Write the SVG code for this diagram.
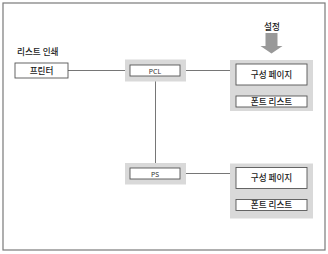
<svg xmlns="http://www.w3.org/2000/svg" width="328" height="254" viewBox="0 0 328 254">
<style>
.frame{fill:#fff;stroke:#7a7a7a;stroke-width:1.2}
.grp{fill:#d9d9d9;stroke:none}
.box{fill:#fff;stroke:#555;stroke-width:0.9}
.ln{stroke:#666;stroke-width:0.9;fill:none}
.kt{font-family:"Noto Sans CJK KR","Noto Sans",sans-serif;font-size:8.6px;font-weight:500;fill:#1a1a1a;text-anchor:middle}
.lt{font-family:"Noto Sans","Liberation Sans",sans-serif;font-size:7px;fill:#333;text-anchor:middle}
</style>
<rect class="frame" x="3" y="3" width="322" height="247"/>
<g id="connectors">
<line class="ln" x1="68" y1="70.5" x2="130" y2="70.5"/>
<line class="ln" x1="180" y1="70.5" x2="231" y2="70.5"/>
<line class="ln" x1="155.5" y1="76" x2="155.5" y2="168"/>
<line class="ln" x1="180" y1="173.5" x2="231" y2="173.5"/>
<line class="ln" x1="271.5" y1="85" x2="271.5" y2="96"/>
<line class="ln" x1="271.5" y1="188" x2="271.5" y2="199"/>
</g>
<g id="label-list">
<text class="kt" x="17" y="55" style="text-anchor:start">리스트 인쇄</text>
</g>
<g id="printer">
<rect class="box" x="15" y="63" width="53" height="15"/>
<text class="kt" x="41.5" y="74">프린터</text>
</g>
<g id="pcl">
<rect class="grp" x="125" y="59.5" width="61" height="22"/>
<rect class="box" x="130" y="65" width="50" height="11"/>
<text class="lt" x="155" y="73.5">PCL</text>
</g>
<g id="ps">
<rect class="grp" x="125" y="163" width="61" height="21.5"/>
<rect class="box" x="130" y="168" width="50" height="11"/>
<text class="lt" x="155" y="176.5">PS</text>
</g>
<g id="setting">
<text class="kt" x="272" y="30">설정</text>
<polygon points="265.5,33 277.5,33 277.5,46 282.5,46 271.5,53.5 260.5,46 265.5,46" fill="#999"/>
</g>
<g id="pcl-pages">
<rect class="grp" x="230" y="60" width="83" height="51"/>
<rect class="box" x="236" y="64" width="71" height="21"/>
<text class="kt" x="271.5" y="77.5">구성 페이지</text>
<rect class="box" x="236" y="96" width="71" height="11"/>
<text class="kt" x="271.5" y="104.8">폰트 리스트</text>
</g>
<g id="ps-pages">
<rect class="grp" x="230" y="163.5" width="83" height="55"/>
<rect class="box" x="236" y="167.5" width="71" height="21"/>
<text class="kt" x="271.5" y="181">구성 페이지</text>
<rect class="box" x="236" y="199.5" width="71" height="11"/>
<text class="kt" x="271.5" y="208.3">폰트 리스트</text>
</g>
</svg>
